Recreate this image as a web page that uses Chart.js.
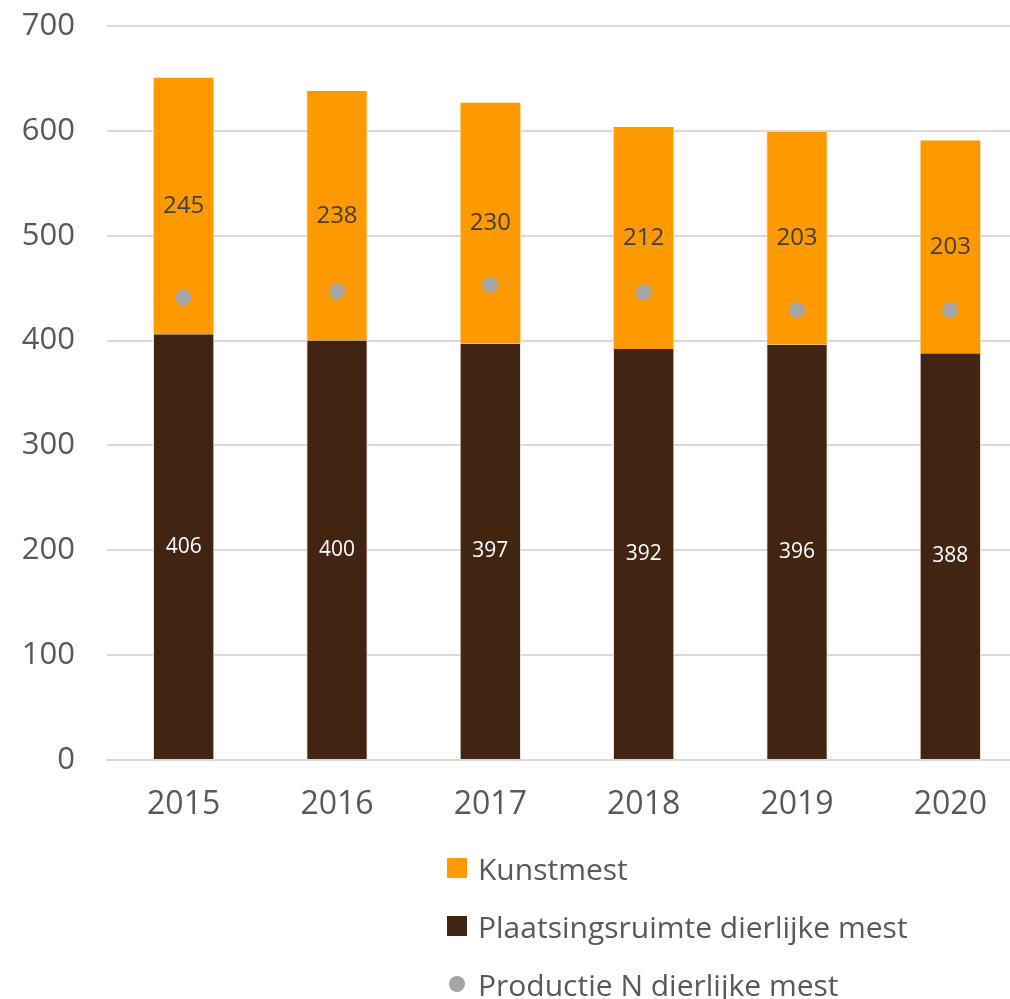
<!DOCTYPE html>
<html>
<head>
<meta charset="utf-8">
<script src="https://cdn.jsdelivr.net/npm/chart.js@4/dist/chart.umd.min.js"></script>
<style>
  html, body { margin: 0; padding: 0; background: #fff; overflow: hidden; }
  #wrap { position: relative; width: 1035px; height: 999px; }
  #legend { position: absolute; left: 447px; top: 839px; font-family: "Open Sans", sans-serif; font-size: 30px; color: #595959; }
  #legend div { height: 58px; display: flex; align-items: center; }
  #legend span.m { display: inline-block; width: 20px; height: 20px; margin-right: 11px; }
</style>
</head>
<body>
<div id="wrap">
  <canvas id="chart" width="1035" height="999"></canvas>
  <div id="legend"></div>
</div>
<script>
// data
const years = ['2015', '2016', '2017', '2018', '2019', '2020'];
const plaatsingsruimte = [406, 400, 397, 392, 396, 388];
const kunstmest = [245, 238, 230, 212, 203, 203];
const productieN = [441, 447, 453, 446, 429, 429];

const barLabels = {
  id: 'barLabels',
  afterDatasetsDraw(chart) {
    const ctx = chart.ctx;
    chart.data.datasets.forEach((ds, i) => {
      if (ds.type !== 'bar') return;
      const meta = chart.getDatasetMeta(i);
      meta.data.forEach((bar, j) => {
        ctx.save();
        ctx.fillStyle = ds.labelColor;
        ctx.font = ds.labelFont;
        ctx.textAlign = 'center';
        ctx.textBaseline = 'middle';
        ctx.fillText(ds.data[j], bar.x, (bar.y + bar.base) / 2);
        ctx.restore();
      });
    });
  }
};

const chart = new Chart(document.getElementById('chart'), {
  data: {
    labels: years,
    datasets: [
      {
        type: 'bar',
        label: 'Plaatsingsruimte dierlijke mest',
        data: plaatsingsruimte,
        backgroundColor: '#422413',
        borderColor: '#e8e2dc',
        borderWidth: { left: 1, right: 1, top: 0, bottom: 0 },
        barPercentage: 0.4,
        categoryPercentage: 1,
        labelColor: '#ffffff',
        labelFont: '21px "Open Sans", sans-serif',
        order: 1
      },
      {
        type: 'bar',
        label: 'Kunstmest',
        data: kunstmest,
        backgroundColor: '#FF9900',
        borderColor: '#ffd9a0',
        borderWidth: { left: 1, right: 1, top: 0, bottom: 0 },
        barPercentage: 0.4,
        categoryPercentage: 1,
        labelColor: '#404040',
        labelFont: '24px "Open Sans", sans-serif',
        order: 2
      },
      {
        type: 'line',
        label: 'Productie N dierlijke mest',
        data: productieN,
        showLine: false,
        pointRadius: 8,
        pointHoverRadius: 8,
        pointBackgroundColor: '#A5A5A5',
        pointBorderWidth: 0,
        borderColor: '#A5A5A5',
        order: 0
      }
    ]
  },
  options: {
    responsive: false,
    animation: false,
    layout: { padding: { top: 26, bottom: 169, left: 0, right: 0 } },
    plugins: { legend: { display: false }, tooltip: { enabled: false } },
    scales: {
      x: {
        stacked: true,
        grid: { display: false, drawTicks: false },
        border: { color: '#d9d9d9', width: 2 },
        ticks: { color: '#595959', font: { family: 'Open Sans', size: 32 }, padding: 26 },
        afterFit(s) { s.height = 70; s.paddingLeft = 0; s.paddingRight = 0; }
      },
      y: {
        stacked: true,
        min: 0,
        max: 700,
        grid: { color: '#d9d9d9', lineWidth: 2, drawTicks: false },
        border: { display: false },
        ticks: { stepSize: 100, color: '#595959', font: { family: 'Open Sans', size: 31 }, padding: 32 },
        afterFit(s) { s.width = 107; s.paddingTop = 0; s.paddingBottom = 0; }
      }
    }
  },
  plugins: [barLabels]
});

// html legend built from datasets
const legendEl = document.getElementById('legend');
[1, 0, 2].forEach(i => {
  const ds = chart.data.datasets[i];
  const row = document.createElement('div');
  const m = document.createElement('span');
  m.className = 'm';
  if (ds.type === 'line') {
    m.style.background = ds.pointBackgroundColor;
    m.style.borderRadius = '50%';
    m.style.width = '16px'; m.style.height = '16px';
    m.style.marginLeft = '2px'; m.style.marginRight = '13px';
  } else {
    m.style.background = ds.backgroundColor;
  }
  row.appendChild(m);
  row.appendChild(document.createTextNode(ds.label));
  legendEl.appendChild(row);
});
</script>
</body>
</html>
